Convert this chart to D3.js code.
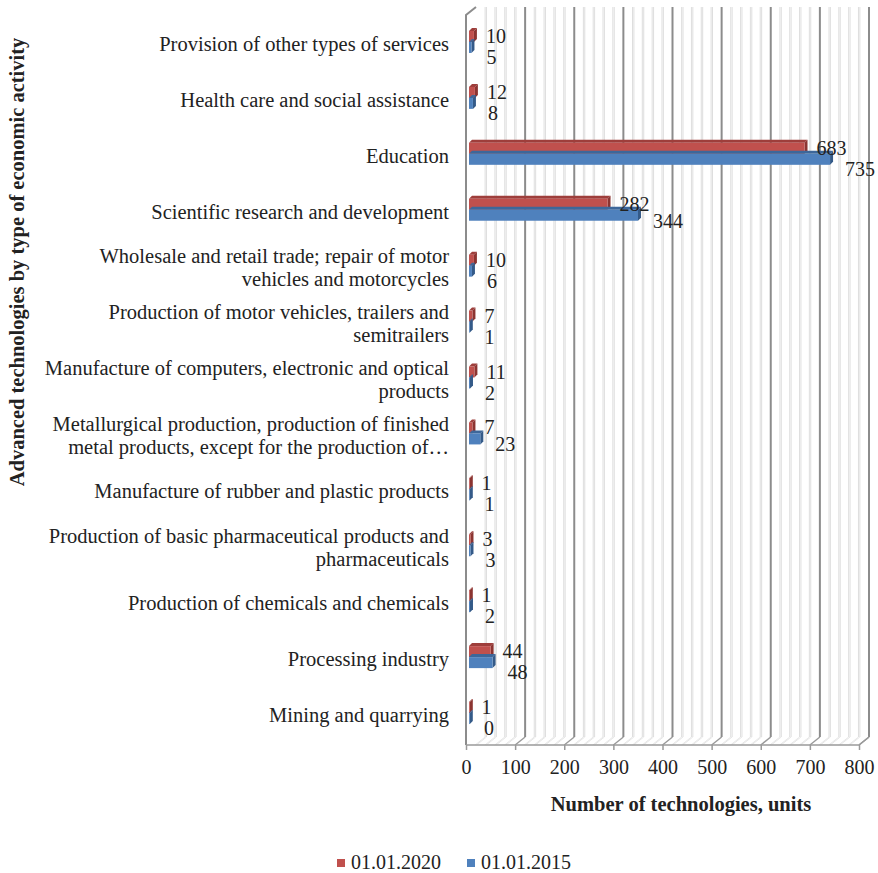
<!DOCTYPE html>
<html lang="en">
<head>
<meta charset="UTF-8">
<title>Advanced technologies by type of economic activity</title>
<style>
  html, body { margin: 0; padding: 0; background: #fff; }
  svg { display: block; font-family: "Liberation Serif", "Times New Roman", serif; }
</style>
</head>
<body>
<svg id="svg" width="878" height="873"></svg>
<script src="https://d3js.org/d3.v7.min.js"></script>
<script>
  // categories, top to bottom
  const categories = [
    'Provision of other types of services',
    'Health care and social assistance',
    'Education',
    'Scientific research and development',
    'Wholesale and retail trade; repair of motor vehicles and motorcycles',
    'Production of motor vehicles, trailers and semitrailers',
    'Manufacture of computers, electronic and optical products',
    'Metallurgical production, production of finished metal products, except for the production of machinery and equipment',
    'Manufacture of rubber and plastic products',
    'Production of basic pharmaceutical products and pharmaceuticals',
    'Production of chemicals and chemicals',
    'Processing industry',
    'Mining and quarrying'
  ]
  const values2020 = [10, 12, 683, 282, 10, 7, 11, 7, 1, 3, 1, 44, 1]
  const values2015 = [5, 8, 735, 344, 6, 1, 2, 23, 1, 3, 2, 48, 0]
  const seriesNames = ['01.01.2020', '01.01.2015']
  const xTicks = [0, 100, 200, 300, 400, 500, 600, 700, 800]

  const svg = d3.select('#svg')
  const textColor = '#222'

  // front scale + 3D depth offset of the back wall
  const xscale = d3.scaleLinear().domain([0, 800]).range([466, 859])
  const depthX = 10, depthY = -8
  const floorY = 745
  const topY = 15

  const yscale = d3.scaleBand()
    .domain(categories)
    .range([16, 743])

  const grid = svg.append('g')

  // minor gridlines (every 20) on back wall + floor
  const minor = d3.range(0, 801, 20).filter(v => v % 100 !== 0)
  minor.forEach(v => {
    const bx = xscale(v) + depthX
    ;[-0.7, 0.7].forEach(o => {
      grid.append('line')
        .attr('x1', bx + o).attr('x2', bx + o)
        .attr('y1', topY + depthY).attr('y2', floorY + depthY)
        .attr('stroke', '#d6d6d6').attr('stroke-width', 0.8)
      grid.append('line')
        .attr('x1', bx + o).attr('y1', floorY + depthY)
        .attr('x2', xscale(v) + o).attr('y2', floorY)
        .attr('stroke', '#dddddd').attr('stroke-width', 0.7)
    })
  })

  // major gridlines
  xTicks.filter(v => v > 0).forEach(v => {
    const bx = xscale(v) + depthX
    grid.append('line')
      .attr('x1', bx).attr('x2', bx)
      .attr('y1', topY + depthY).attr('y2', floorY + depthY)
      .attr('stroke', '#8c8c8c').attr('stroke-width', 2)
    grid.append('line')
      .attr('x1', bx).attr('y1', floorY + depthY)
      .attr('x2', xscale(v)).attr('y2', floorY)
      .attr('stroke', '#9a9a9a').attr('stroke-width', 1.5)
  })

  // left side wall
  grid.append('path')
    .attr('d', `M${xscale(0)},${floorY} L${xscale(0)},${topY} L${xscale(0) + depthX},${topY + depthY}`)
    .attr('fill', 'none')
    .attr('stroke', '#8c8c8c').attr('stroke-width', 2)

  // floor front edge + right edge
  grid.append('path')
    .attr('d', `M${xscale(0)},${floorY} L${xscale(800)},${floorY} L${xscale(800) + depthX},${floorY + depthY}`)
    .attr('fill', 'none')
    .attr('stroke', '#9a9a9a').attr('stroke-width', 1.5)

  // bottom axis ticks + labels
  const bottomAxis = d3.axisBottom(xscale)
    .tickValues(xTicks)
    .tickSize(5)
    .tickPadding(10)
  const axisG = svg.append('g')
    .attr('transform', `translate(0, ${floorY})`)
    .call(bottomAxis)
  axisG.select('.domain').remove()
  axisG.selectAll('line').attr('stroke', '#9a9a9a').attr('stroke-width', 1.5)
  axisG.selectAll('text')
    .attr('fill', textColor)
    .style('font-family', '"Liberation Serif", serif')
    .style('font-size', '20px')

  // bars (3D boxes)
  const barH = 11
  const bx0 = 3, by0 = -2, ext = 3
  const colors = [
    { face: '#C0504D', top: '#9E3E3B', side: '#8B3431' },
    { face: '#4F81BD', top: '#3D679A', side: '#345A88' }
  ]
  const series = [values2020, values2015]
  const barGroup = svg.append('g')

  categories.forEach((cat, i) => {
    const c = yscale(cat) + yscale.bandwidth() / 2
    series.forEach((vals, s) => {
      const v = vals[i]
      const x0 = xscale(0) + bx0
      const x1 = xscale(v) + bx0
      const y0 = c + by0 + (s === 0 ? -barH : 0)
      const y1 = y0 + barH
      const col = colors[s]
      const w = Math.max(x1 - x0, 0.8)
      // top face
      barGroup.append('path')
        .attr('d', `M${x0},${y0} L${x0 + ext},${y0 - ext} L${x0 + w + ext},${y0 - ext} L${x0 + w},${y0} Z`)
        .attr('fill', col.top)
      // side face
      barGroup.append('path')
        .attr('d', `M${x0 + w},${y0} L${x0 + w + ext},${y0 - ext} L${x0 + w + ext},${y1 - ext} L${x0 + w},${y1} Z`)
        .attr('fill', col.side)
      // front face
      barGroup.append('rect')
        .attr('x', x0).attr('y', y0)
        .attr('width', w).attr('height', barH)
        .attr('fill', col.face)
    })
  })

  // value labels; the lower label moves down when it would collide with the upper one
  const labelG = svg.append('g')
    .style('font-size', '20px')
    .attr('fill', textColor)
  categories.forEach((cat, i) => {
    const c = yscale(cat) + yscale.bandwidth() / 2
    const redT = labelG.append('text')
      .attr('x', xscale(values2020[i]) + 15)
      .attr('y', c - 8)
      .attr('dominant-baseline', 'central')
      .text(values2020[i])
    const redBox = redT.node().getBBox()
    const bx = xscale(values2015[i]) + 18
    const blueT = labelG.append('text')
      .attr('x', bx)
      .attr('y', c + 9)
      .attr('dominant-baseline', 'central')
      .text(values2015[i])
    const blueBox = blueT.node().getBBox()
    const hOverlap = blueBox.x < redBox.x + redBox.width && blueBox.x + blueBox.width > redBox.x
    if (hOverlap) blueT.attr('y', c + 13)
  })

  // category labels, wrapped to max 2 lines
  const catG = svg.append('g')
    .style('font-size', '20.5px')
    .attr('fill', textColor)
    .attr('text-anchor', 'end')
  const maxW = 407
  const lineH = 23

  function wrap(str, measure) {
    const words = str.split(' ')
    const lines = []
    let line = ''
    words.forEach(wd => {
      const test = line ? line + ' ' + wd : wd
      if (measure(test) > maxW && line) {
        lines.push(line)
        line = wd
      } else {
        line = test
      }
    })
    if (line) lines.push(line)
    if (lines.length > 2) {
      // cut the second line back to whole words and add an ellipsis
      const ws = lines[1].split(' ')
      while (ws.length > 1 && measure(ws.join(' ') + '…') > maxW) ws.pop()
      lines.length = 1
      lines.push(ws.join(' ') + '…')
    }
    return lines
  }

  const probe = catG.append('text')
  const measure = s => { probe.text(s); return probe.node().getComputedTextLength() }

  categories.forEach(cat => {
    const c = yscale(cat) + yscale.bandwidth() / 2
    const lines = wrap(cat, measure)
    const t = catG.append('text')
      .attr('x', 449)
      .attr('y', c - (lines.length - 1) * lineH / 2)
      .attr('dominant-baseline', 'central')
    lines.forEach((ln, k) => {
      t.append('tspan')
        .attr('x', 449)
        .attr('dy', k === 0 ? 0 : lineH)
        .text(ln)
    })
  })
  probe.remove()

  // axis titles
  svg.append('text')
    .attr('x', 681)
    .attr('y', 804)
    .attr('text-anchor', 'middle')
    .attr('dominant-baseline', 'central')
    .style('font-size', '20.5px')
    .style('font-weight', 'bold')
    .attr('fill', textColor)
    .text('Number of technologies, units')

  svg.append('text')
    .attr('transform', 'rotate(-90)')
    .attr('x', -262)
    .attr('y', 17)
    .attr('text-anchor', 'middle')
    .attr('dominant-baseline', 'central')
    .style('font-size', '20.5px')
    .style('font-weight', 'bold')
    .attr('fill', textColor)
    .text('Advanced technologies by type of economic activity')

  // legend
  const legend = svg.append('g')
  const legendX = [337, 467]
  seriesNames.forEach((name, s) => {
    legend.append('rect')
      .attr('x', legendX[s]).attr('y', 859)
      .attr('width', 8).attr('height', 8)
      .attr('fill', colors[s].face)
    legend.append('text')
      .attr('x', legendX[s] + 14)
      .attr('y', 862)
      .attr('dominant-baseline', 'central')
      .style('font-size', '20px')
      .attr('fill', textColor)
      .text(name)
  })
</script>
</body>
</html>
